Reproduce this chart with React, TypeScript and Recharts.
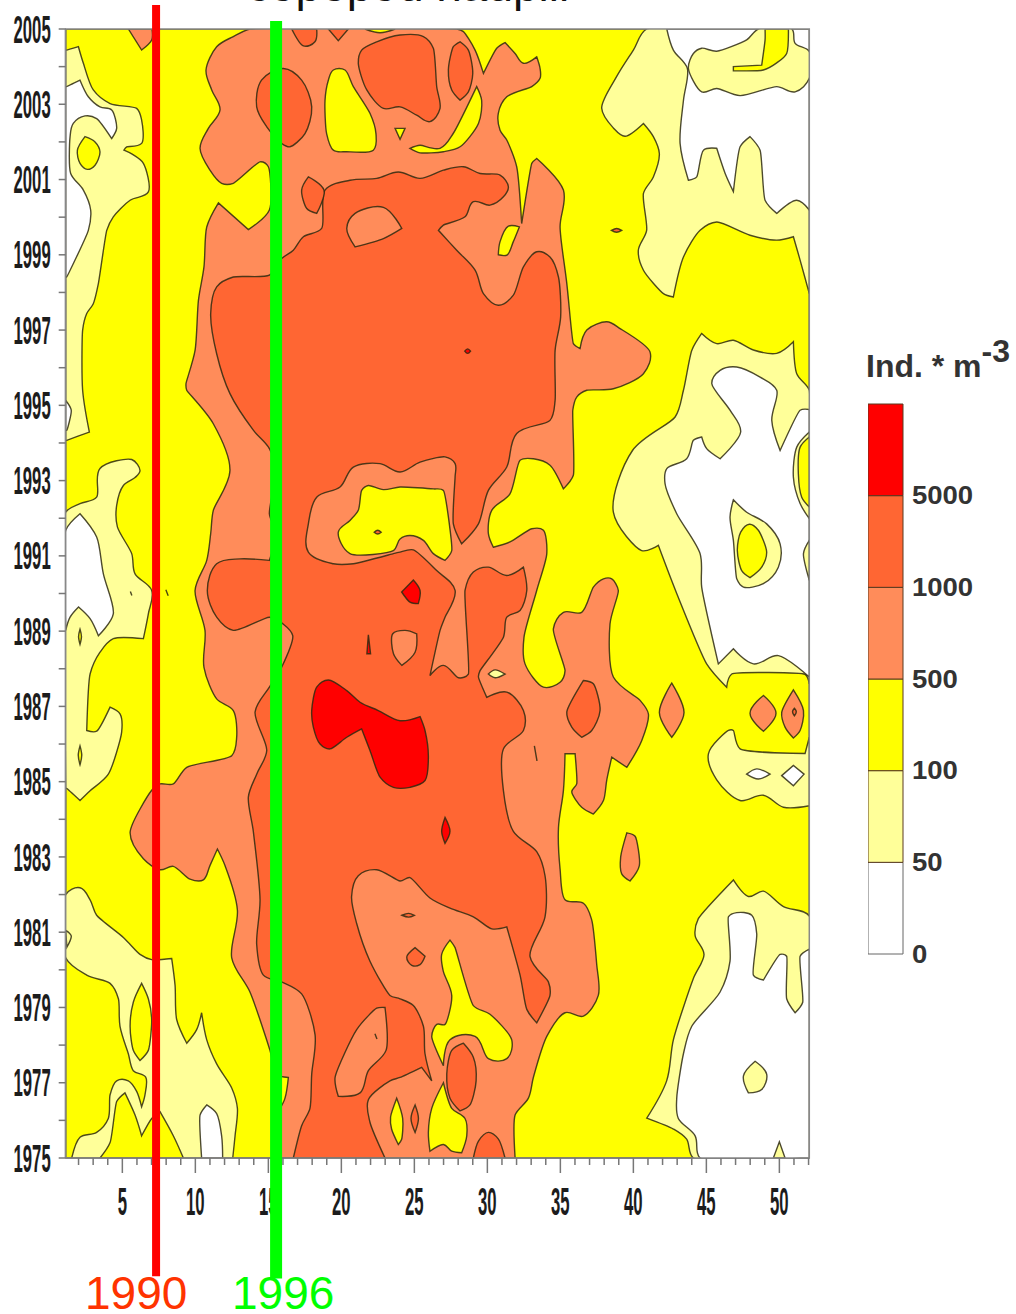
import React from "react";
import { Bar, BarChart, Scatter, ScatterChart, XAxis, YAxis } from "recharts";

type Pt = [number, number]; // [week, year]

const WEEK_MIN = 1.12;
const WEEK_MAX = 52.05;
const YEAR_MIN = 1975;
const YEAR_MAX = 2005;
// what the full page height comes to in years, for the overlay with the marker lines
const PAGE_YEAR_MIN = 1970.855;
const PAGE_YEAR_MAX = 2005.77;

const xMajor = [5, 10, 15, 20, 25, 30, 35, 40, 45, 50];
const xTicks = [
  2, 3, 4, 5, 6, 7, 8, 9, 10, 11, 12, 13, 14, 15, 16, 17, 18, 19, 20, 21, 22, 23, 24, 25, 26, 27,
  28, 29, 30, 31, 32, 33, 34, 35, 36, 37, 38, 39, 40, 41, 42, 43, 44, 45, 46, 47, 48, 49, 50, 51, 52,
];
const yTicks = [
  1975, 1976, 1977, 1978, 1979, 1980, 1981, 1982, 1983, 1984, 1985, 1986, 1987, 1988, 1989, 1990,
  1991, 1992, 1993, 1994, 1995, 1996, 1997, 1998, 1999, 2000, 2001, 2002, 2003, 2004, 2005,
];

const legendLabels = ["0", "50", "100", "500", "1000", "5000"];
const legendRow = [{ name: "levels", a: 1, b: 1, c: 1, d: 1, e: 1, f: 1 }];

// the two marker lines run past the plot on both sides
const line1990: Pt[] = [[7.31, 2005.64], [7.31, 1971.86]];
const line1996: Pt[] = [[15.53, 2005.21], [15.53, 1971.8]];

// 100-500 fills the whole plot first
const plotArea: Pt[] = [[WEEK_MIN, 1975], [WEEK_MAX, 1975], [WEEK_MAX, 2005], [WEEK_MIN, 2005]];

// 50-100 band
const paleTopLeft: Pt[] = [[1.19,2004.44],[1.99,2004.53],[2.33,2004.09],[3.01,2003.38],[4.16,2003.02],[5.98,2002.89],[6.32,2002.58],[6.32,2001.96],[5.3,2001.87],[5.11,2001.78],[5.64,2001.68],[6.44,2001.43],[6.78,2000.67],[5.53,2000.45],[4.38,2000.01],[3.93,1999.65],[3.36,1998.24],[3.01,1997.7],[2.56,1997.44],[2.28,1997],[2.28,1995.4],[2.74,1994.29],[1.19,1994.07],[1.12,1994.07],[1.12,2004.44]];
const paleMidLeft: Pt[] = [[1.12,1992.16],[2.1,1992.39],[3.24,1992.56],[3.47,1993.32],[5.64,1993.56],[6.21,1993.27],[5.87,1993.08],[5.07,1992.87],[4.61,1992.34],[4.66,1991.77],[5.64,1991.06],[5.87,1990.52],[7.01,1990.08],[6.78,1989.46],[6.44,1988.8],[4.38,1988.8],[3.47,1988.44],[2.79,1987.86],[2.56,1986.36],[3.24,1986.34],[4.16,1986.98],[4.84,1986.8],[4.95,1986.31],[4.04,1985.2],[2.79,1984.76],[2.1,1984.5],[1.19,1984.82],[1.12,1984.82]];
const paleBottomLeft: Pt[] = [[1.12,1982],[2.1,1982.18],[2.79,1981.86],[3.24,1981.45],[5.07,1980.86],[6.21,1980.41],[7.01,1980.27],[8.38,1980.3],[8.61,1979.59],[8.72,1978.68],[9.41,1978.05],[10.09,1978.41],[10.43,1978.86],[10.78,1978.14],[11.46,1977.5],[12.49,1976.86],[12.88,1976.32],[12.72,1975.59],[12.56,1975],[1.53,1975],[2.1,1975.55],[3.24,1975.68],[4.04,1976.05],[4.16,1976.68],[4.61,1977.05],[5.41,1977.05],[5.98,1976.77],[6.32,1976.36],[6.55,1976.68],[6.6,1977.15],[5.75,1977.32],[5.41,1977.77],[4.84,1978.5],[4.73,1979.23],[4.16,1979.64],[2.56,1979.86],[1.12,1980.32]];
const paleTopRight: Pt[] = [[40.91,2005],[40,2004.44],[38.86,2003.74],[37.83,2002.9],[38.63,2002.37],[39.43,2002.15],[40.69,2002.49],[41.37,2002.14],[41.78,2001.69],[41.37,2001.07],[40.69,2000.63],[40.91,1999.65],[40.34,1999.12],[40.69,1998.59],[42.06,1997.97],[42.74,1997.88],[43.43,1998.94],[44.57,1999.65],[45.71,1999.87],[47.99,1999.52],[49.82,1999.39],[50.96,1999.48],[51.42,1998.86],[52.05,1997.97],[52.05,2005]];
const paleMidRight: Pt[] = [[44.68,1996.91],[45.71,1996.64],[46.85,1996.73],[48.22,1996.47],[49.82,1996.38],[50.96,1996.69],[51.19,1995.84],[52.05,1995.4],[52.05,1987.6],[51.76,1987.85],[46.74,1987.86],[46.39,1987.51],[45.02,1988.13],[42.97,1990],[41.71,1991.28],[40.57,1991.14],[38.63,1992.16],[39.94,1993.8],[42.86,1994.69],[43.43,1995.4],[44,1996.46]];
const paleLowRight: Pt[] = [[45.14,1985.74],[46.51,1986.36],[46.85,1986.36],[47.31,1985.87],[51.76,1985.75],[52.05,1986.18],[52.05,1984.36],[50.28,1984.32],[48.9,1984.64],[47.31,1984.5],[45.71,1985.05]];
const paleBottomRight: Pt[] = [[40.92,1976.06],[42.28,1977.05],[42.74,1978.14],[44.11,1979.77],[44.84,1980.41],[44.23,1980.91],[44.45,1981.36],[46.85,1982.39],[47.88,1981.95],[48.91,1982.09],[50.28,1981.68],[52.05,1981.43],[52.05,1975],[44.11,1975],[43.65,1975.5],[42.74,1975.77]];
const paleNotch: Pt[] = [[1.12,1981.05],[1.5,1980.9],[1.2,1980.6]];

// below 50
const whiteTopLeft: Pt[] = [[1.19,2003.47],[2.1,2003.64],[2.67,2003.2],[3.47,2002.93],[4.27,2002.85],[4.61,2002.36],[4.27,2002.09],[3.24,2002.62],[2.44,2002.69],[1.64,2002.49],[1.42,2002.14],[1.46,2001.16],[2.33,2000.72],[2.83,2000.19],[2.67,1999.65],[1.19,1998.41],[1.12,1998.41],[1.12,2003.47]];
const whiteSliver: Pt[] = [[1.12,1995.13],[1.5,1994.87],[1.2,1994.34],[1.12,1994.34]];
const whiteMidLeft: Pt[] = [[1.12,1991.68],[2.1,1992.12],[3.24,1991.5],[3.7,1990.52],[4.38,1989.46],[3.36,1988.88],[2.79,1989.33],[2,1989.64],[1.42,1989.37],[1.12,1989.02]];
const whiteSlot: Pt[] = [[10.43,1975],[10.32,1976.14],[10.78,1976.41],[11.46,1976.18],[11.8,1975.59],[11.87,1975]];
const whiteTopRight: Pt[] = [[42.29,2005],[42.74,2004.44],[43.7,2003.95],[43.43,2003.1],[43.2,2001.96],[43.77,2000.98],[44.34,2001.07],[44.8,2001.78],[45.71,2001.83],[46.28,2001.17],[46.85,2000.68],[47.31,2001.87],[47.99,2002.14],[48.68,2001.78],[49.02,2000.45],[49.82,2000.1],[51.19,2000.45],[52.05,2000.19],[52.05,2005]];
const whiteMidRight: Pt[] = [[45.37,1995.58],[45.94,1995.93],[47.08,1996.02],[48.68,1995.75],[49.82,1995.4],[49.48,1994.6],[50.05,1993.8],[51.42,1994.87],[52.05,1994.89],[52.05,1987.78],[49.93,1988.35],[48.22,1988.13],[46.85,1988.53],[45.82,1988.13],[44.68,1990.17],[44.57,1991.06],[42.97,1992.12],[42.17,1992.92],[42.29,1993.32],[43.65,1993.58],[44.11,1994.07],[44.68,1994.16],[45.02,1993.85],[45.94,1993.58],[47.35,1994.29],[46.62,1994.87]];
const whiteBottomRight: Pt[] = [[44.57,1975],[44.23,1975.59],[43.08,1976.05],[42.97,1976.59],[43.43,1977.77],[44,1978.5],[45.94,1979.41],[46.62,1980.23],[46.51,1981.41],[47.08,1981.52],[48.11,1981.45],[48.45,1980.95],[48.22,1979.86],[48.91,1979.73],[50.05,1980.41],[50.5,1980.36],[50.5,1979.23],[51.08,1978.86],[51.6,1979.14],[51.42,1980.36],[52.05,1980.55],[52.05,1975]];
const whiteEye1: Pt[] = [[47.76,1985.2],[48.45,1985.34],[49.36,1985.2],[48.56,1985.07]];
const whiteEye2: Pt[] = [[50.16,1985.16],[50.96,1985.43],[51.69,1985.2],[50.96,1984.89]];

// 50-100 again, sitting on the white parts
const paleBandTop: Pt[] = [[43.77,2003.95],[44.11,2004.35],[44.68,2004.49],[45.71,2004.41],[47.76,2004.71],[48.56,2005],[50.85,2005],[51.08,2004.62],[52.05,2004.4],[52.05,2003.69],[51.08,2003.33],[49.82,2003.47],[47.31,2003.23],[45.71,2003.42],[44.68,2003.33]];
const paleEdgeOval: Pt[] = [[52.05,1994.29],[51.19,1993.89],[50.96,1993.09],[51.42,1992.39],[52.05,1991.99]];
const paleEdgeSmall: Pt[] = [[52.05,1991.41],[51.65,1991.06],[52.05,1990.35]];
const paleIsland: Pt[] = [[46.85,1992.49],[47.76,1992.16],[49.13,1991.85],[50.05,1991.32],[49.93,1990.7],[48.9,1990.26],[47.54,1990.17],[47.08,1990.39],[46.85,1991.41],[46.62,1992.03]];
const paleRound: Pt[] = [[47.54,1977.18],[48.34,1977.57],[49.13,1977.23],[48.79,1976.82],[47.88,1976.73]];
const paleBottomTip: Pt[] = [[49.59,1975],[50,1975.43],[50.39,1975]];

// yellow on top of the pale bands
const yellowLeftIsland: Pt[] = [[1.92,2001.78],[2.44,2002.14],[3.13,2002],[3.47,2001.73],[3.13,2001.38],[2.6,2001.27],[2.1,2001.43]];
const yellowDot1: Pt[] = [[2,1988.86],[2.1,1989.05],[2.2,1988.86],[2.1,1988.65]];
const yellowDot2: Pt[] = [[1.98,1985.7],[2.1,1985.95],[2.22,1985.7],[2.1,1985.45]];
const yellowLeaf: Pt[] = [[6.32,1979.64],[6.78,1979.23],[7.01,1978.68],[6.78,1977.86],[6.21,1977.59],[5.75,1977.86],[5.53,1978.5],[5.75,1979.14]];
const yellowBottomLeft: Pt[] = [[3.47,1975],[4.16,1975.41],[4.61,1976.5],[5.18,1976.73],[5.87,1976.14],[6.32,1975.59],[7.01,1976.05],[7.58,1976.23],[8.49,1975.59],[9.18,1975]];
const yellowTopRight: Pt[] = [[49.02,2005],[50.62,2005],[50.5,2004.35],[49.82,2004.1],[48.9,2003.91],[46.85,2003.89],[46.85,2004],[48.79,2004.04],[49.02,2004.71]];
const yellowEdge: Pt[] = [[52.05,1994.16],[51.42,1993.89],[51.3,1993.18],[51.53,1992.56],[52.05,1992.3]];
const yellowIslandRight: Pt[] = [[47.95,1991.84],[48.56,1991.68],[49.13,1991.1],[48.79,1990.7],[47.99,1990.42],[47.42,1990.61],[47.12,1991.14],[47.35,1991.63]];

// 500-1000
const orangeMain: Pt[] = [[13.74,2005],[12.6,2004.8],[11.46,2004.53],[10.73,2003.91],[11.12,2003.38],[11.69,2002.85],[10.89,2002.36],[10.32,2001.83],[11,2001.25],[11.8,2000.9],[12.6,2000.9],[14.43,2001.47],[15,2001.34],[15.07,2000.19],[13.63,1999.67],[11.58,2000.38],[10.78,1999.74],[10.59,1998.68],[10.21,1997.79],[9.98,1996.46],[9.36,1995.58],[9.41,1995.4],[11.23,1994.51],[12.37,1993.27],[11.23,1992.21],[11.05,1991.59],[10.78,1990.88],[9.98,1990.08],[10.66,1989.02],[10.59,1988.04],[11.46,1987.2],[12.6,1986.89],[12.83,1986.18],[12.49,1985.69],[9.41,1985.38],[8.49,1984.94],[7.58,1984.94],[7.01,1984.77],[5.53,1983.64],[6.44,1982.95],[7.58,1982.66],[8.49,1982.75],[9.63,1982.41],[10.55,1982.39],[11,1982.77],[11.51,1983.21],[12.03,1982.77],[12.88,1981.59],[12.49,1980.32],[13.74,1979.41],[15.11,1977.86],[15.53,1977.23],[16.37,1977.14],[16.14,1976.59],[15.57,1976.09],[15.46,1975],[31.9,1975],[31.9,1976.14],[32.81,1976.59],[33.15,1977.14],[34.07,1978.23],[35.32,1978.86],[36.58,1978.77],[37.6,1979.32],[37.49,1980.14],[37.15,1981.32],[36.58,1981.77],[35.32,1981.86],[34.98,1982.68],[34.87,1983.77],[35.21,1984.77],[35.32,1985.74],[36.01,1985.74],[36.12,1984.94],[35.78,1984.73],[36.46,1984.32],[37.26,1984.14],[37.95,1984.5],[38.18,1985.05],[38.52,1985.65],[39.55,1985.38],[40.57,1986.09],[41.03,1986.8],[40.46,1987.16],[38.63,1987.78],[38.4,1989.19],[38.97,1990.08],[38.52,1990.39],[37.95,1990.39],[37.26,1990.17],[36.46,1989.5],[35.21,1989.5],[34.52,1989.06],[35.32,1987.95],[34.98,1987.64],[33.84,1987.51],[32.58,1988.13],[32.51,1988.84],[33.38,1990.08],[34.07,1991.06],[33.84,1991.68],[33.04,1991.72],[31.55,1991.37],[30.41,1991.23],[30.07,1991.59],[30.3,1992.21],[31.55,1992.65],[32.24,1993.54],[33.15,1993.58],[34.29,1993.41],[35.21,1992.78],[35.89,1993.14],[35.85,1994.87],[36.12,1995.22],[36.81,1995.4],[38.63,1995.44],[40.69,1995.84],[41.14,1996.42],[39.09,1997.04],[38.18,1997.22],[36.81,1997],[36.35,1996.51],[35.89,1996.64],[35.44,1998.24],[34.98,1999.74],[35.21,2000.72],[33.38,2001.56],[33.04,2001.43],[32.35,1999.83],[32.01,2001.34],[31.33,2002.05],[30.87,2002.31],[30.75,2002.76],[31.33,2003.2],[33.04,2003.47],[33.61,2003.69],[33.61,2003.95],[33.38,2004.26],[32.47,2004.09],[31.9,2004.35],[31.21,2004.64],[30.64,2004.49],[29.73,2003.82],[29.16,2004.44],[28.36,2004.93],[27.9,2005]];
const orangeTopCorner: Pt[] = [[5.41,2005],[6.32,2004.44],[7.01,2004.71],[7.03,2005]];
const orangeDiamond1: Pt[] = [[47.99,1986.82],[48.91,1987.29],[49.77,1986.82],[48.91,1986.34]];
const orangeDiamond2: Pt[] = [[50.16,1986.84],[50.96,1987.44],[51.65,1986.89],[51.42,1986.36],[50.96,1986.16],[50.39,1986.45]];
const orangeDiamond3: Pt[] = [[41.78,1986.84],[42.63,1987.62],[43.47,1986.84],[42.63,1986.18]];
const orangeOval: Pt[] = [[39.13,1983],[39.55,1983.64],[40.12,1983.55],[40.41,1982.77],[39.77,1982.36],[39.2,1982.55]];

// yellow holes in the orange
const yellowHoleTop: Pt[] = [[19.45,2003.91],[20.25,2003.91],[20.82,2003.47],[21.96,2002.76],[22.37,2002.22],[22.19,2001.78],[20.37,2001.74],[19.45,2001.78],[18.99,2002.22],[18.88,2003.1],[19.11,2003.64]];
const yellowSpeck: Pt[] = [[23.68,2002.36],[24.36,2002.36],[24.02,2002.07]];
const yellowCrescent: Pt[] = [[24.7,2001.83],[25.39,2001.91],[26.76,2001.83],[27.67,2002.23],[29.27,2003.47],[29.61,2003.1],[29.39,2002.49],[28.13,2001.87],[26.99,2001.74],[25.39,2001.71]];
const yellowSeed: Pt[] = [[30.87,1999.35],[31.44,1999.76],[32.19,1999.74],[31.78,1999.35],[31.37,1999],[30.75,1999]];
const yellowTopSliver: Pt[] = [[21.62,2005],[22.65,2004.9],[23.68,2005]];
const yellowHoleMid: Pt[] = [[19.79,1991.63],[20.59,1991.94],[21.16,1992.21],[21.39,1992.74],[21.85,1992.87],[22.88,1992.76],[24.02,1992.83],[26.3,1992.78],[26.99,1992.74],[27.56,1991.14],[27.1,1990.88],[26.3,1991.06],[25.62,1991.41],[24.7,1991.54],[24.02,1991.45],[23.56,1991.14],[20.59,1991.06]];
const yellowHoleY: Pt[] = [[26.87,1980.41],[27.44,1980.79],[27.79,1980.59],[29.04,1979.05],[30.18,1978.82],[31.67,1978.14],[31.33,1977.64],[30.07,1977.64],[29.16,1978.23],[27.44,1978.14],[26.99,1977.45],[26.19,1978.23],[26.53,1978.55],[27.1,1978.55],[27.56,1979.32],[26.99,1979.95]];
const yellowHoleLow: Pt[] = [[26.99,1977],[27.56,1976.32],[28.47,1976.05],[28.59,1975.59],[28.24,1975.14],[27.56,1975.18],[26.99,1975.36],[26.07,1975.18],[25.96,1975.68],[26.19,1976.32]];
const yellowDrop: Pt[] = [[23.79,1976.59],[24.2,1976.05],[24.13,1975.5],[23.9,1975.36],[23.44,1975.77],[23.37,1976.09]];
const paleSliver: Pt[] = [[30.07,1987.86],[30.53,1987.97],[31.21,1987.86],[30.53,1987.76]];

// 1000-5000
const darkMain: Pt[] = [[16.71,1975],[17.28,1975.86],[17.85,1976.32],[17.97,1977.23],[18.2,1978.27],[17.28,1979.36],[15.91,1979.68],[14.66,1979.86],[14.2,1980.68],[14.43,1981.86],[13.97,1983.68],[13.63,1984.59],[14.2,1985.2],[14.89,1985.83],[14.09,1986.85],[15.07,1987.51],[15.91,1988.04],[16.67,1988.88],[15.98,1989.2],[15.07,1989.37],[12.6,1989.02],[11.46,1989.37],[10.82,1990.08],[11.46,1990.79],[13.06,1990.92],[15.07,1990.88],[15.52,1991.59],[15.07,1992.12],[15.52,1993.27],[15.07,1993.85],[13.97,1994.34],[12.37,1995.31],[11.46,1996.37],[11.05,1997.44],[11.46,1998.15],[12.6,1998.41],[15.07,1998.46],[15.91,1998.9],[16.71,1999.12],[17.4,1999.48],[18.65,1999.7],[18.88,2000.72],[20.59,2000.98],[22.42,2001.03],[23.9,2001.2],[25.39,2001.03],[26.99,2001.25],[28.36,2001.34],[29.5,2001.16],[30.87,2001.12],[31.44,2000.81],[31.1,2000.54],[30.18,2000.32],[29.04,2000.41],[28.47,2000.01],[26.99,1999.79],[26.65,1999.65],[27.9,1999.12],[29.16,1998.59],[29.73,1997.97],[30.75,1997.66],[31.78,1997.93],[32.47,1998.68],[33.38,1999.08],[34.29,1998.94],[34.87,1998.41],[35.02,1997.35],[34.64,1996.46],[34.64,1995.13],[34.29,1994.6],[32.01,1994.25],[31.33,1993.36],[30.07,1992.74],[29.39,1991.85],[28.24,1991.32],[27.67,1991.85],[27.79,1993.1],[27.79,1993.45],[27.1,1993.63],[25.39,1993.49],[24.02,1993.23],[22.65,1993.45],[20.82,1993.36],[19.91,1992.83],[18.31,1992.56],[17.74,1991.85],[17.74,1991.1],[19.45,1990.79],[20.82,1990.79],[23.56,1991.06],[24.02,1991.1],[24.93,1991.16],[26.53,1990.61],[27.79,1990.08],[27.1,1989.37],[26.76,1989.02],[26.07,1987.82],[26.99,1988.09],[28.02,1987.76],[28.7,1987.86],[28.47,1990.08],[29.04,1990.57],[30.07,1990.7],[31.33,1990.48],[32.47,1990.7],[32.7,1990.08],[32.24,1989.55],[31.33,1989.37],[31.1,1988.84],[29.5,1987.95],[29.39,1987.78],[29.96,1987.24],[31.33,1987.38],[32.47,1986.89],[32.47,1986.36],[31.1,1985.87],[31.1,1984.76],[31.78,1983.68],[33.38,1983.14],[33.95,1982.5],[33.95,1981.41],[32.92,1980.36],[34.18,1979.68],[34.29,1979.32],[33.38,1978.59],[32.7,1978.95],[32.24,1979.86],[31.33,1981.14],[30.3,1981.09],[29.04,1981.41],[27.44,1981.64],[26.07,1981.91],[24.7,1982.45],[24.02,1982.36],[22.42,1982.66],[21.16,1982.5],[20.7,1981.95],[21.05,1981.23],[21.96,1980.23],[23.33,1979.32],[24.02,1979.23],[24.93,1979.05],[25.62,1978.5],[25.73,1977.77],[26.19,1977.05],[25.5,1977.41],[24.02,1977.14],[23.33,1977.05],[21.85,1976.55],[21.96,1975.95],[22.99,1975]];
const darkBlobNeck: Pt[] = [[17.74,2001.07],[18.81,2000.72],[18.31,2000.1],[17.63,2000.23],[17.28,2000.72]];
const darkRoundTop: Pt[] = [[14.2,2002.93],[14.53,2003.64],[16.03,2003.95],[17.28,2003.64],[17.97,2002.93],[17.51,2002.22],[16.48,2001.87],[15.91,2001.96],[14.89,2002.4]];
const darkTopA: Pt[] = [[16.6,2005],[17.4,2004.55],[18.19,2004.66],[18.31,2005]];
const darkTopB: Pt[] = [[19.11,2005],[19.79,2004.69],[20.48,2005]];
const darkTopBig: Pt[] = [[21.39,2004.44],[22.42,2004.66],[24.02,2004.84],[25.62,2004.8],[26.3,2004.49],[26.53,2003.47],[26.76,2002.89],[26.07,2002.54],[25.16,2002.71],[24.02,2002.93],[22.88,2002.89],[21.74,2003.38],[21.16,2004.09]];
const darkTopOval: Pt[] = [[27.33,2003.91],[27.67,2004.53],[28.13,2004.66],[28.7,2004.44],[29,2003.82],[28.7,2003.33],[28.13,2003.11],[27.56,2003.38]];
const darkPatch1: Pt[] = [[24.48,1980.34],[25.05,1980.59],[25.73,1980.36],[25.39,1980.14],[24.82,1980.12]];
const darkOvalLow: Pt[] = [[27.22,1977.23],[27.56,1977.86],[28.36,1978.05],[29.04,1977.68],[29.23,1977.05],[28.81,1976.41],[28.13,1976.25],[27.44,1976.59]];
const darkDiamondLow: Pt[] = [[25.05,1976.41],[24.77,1976.05],[25.05,1975.68],[25.28,1976.05]];
const darkBottom: Pt[] = [[29.04,1975],[29.39,1975.45],[30.07,1975.68],[30.76,1975.5],[31.21,1975]];
const darkOvalRight: Pt[] = [[35.44,1986.85],[36.58,1987.69],[37.26,1987.6],[37.72,1986.89],[37.15,1986.36],[36.46,1986.18],[35.78,1986.45]];
const darkDotRight: Pt[] = [[50.9,1986.86],[51.03,1986.95],[51.16,1986.86],[51.03,1986.75]];

// orange holes inside the 1000-5000 field
const orangeHoleTop: Pt[] = [[20.37,1999.7],[20.94,2000.1],[22.88,2000.26],[24.14,1999.7],[22.88,1999.43],[20.94,1999.21]];
const orangeHoleMid: Pt[] = [[23.52,1988.93],[24.36,1989.02],[25.16,1988.93],[25.05,1988.44],[24.14,1988.09],[23.57,1988.4]];
const orangeHoleLow: Pt[] = [[22.99,1979],[23.06,1977.86],[21.85,1977.32],[21.28,1976.73],[19.79,1976.64],[19.57,1977.14],[21.05,1978.41],[22.42,1978.98]];

// tiny closed contours, almost only outline
const specks: Pt[][] = [
  [[22.25,1991.63],[22.49,1991.68],[22.73,1991.63],[22.49,1991.58]],
  [[38.5,1999.65],[38.86,1999.7],[39.2,1999.65],[38.86,1999.6]],
  [[24.15,1981.45],[24.6,1981.5],[25,1981.45],[24.6,1981.4]],
  [[33.22,1985.95],[33.31,1985.75],[33.4,1985.55]],
  [[22.3,1978.3],[22.37,1978.23],[22.44,1978.16]],
  [[7.98,1990.1],[8.06,1990.02],[8.14,1989.94]],
  [[5.55,1990.05],[5.6,1990],[5.65,1989.95]],
];

// above 5000
const redBig: Pt[] = [[17.97,1986.89],[18.31,1987.51],[19.11,1987.7],[20.37,1987.42],[21.28,1987.11],[22.53,1986.89],[24.02,1986.62],[25.39,1986.73],[25.73,1986.36],[25.96,1985.65],[25.73,1985.03],[24.7,1984.85],[23.56,1984.85],[22.65,1985.12],[21.96,1985.83],[21.39,1986.4],[20.37,1986.18],[19.22,1985.87],[18.54,1986],[18.08,1986.45]];
const redDiamond: Pt[] = [[24.13,1990.04],[24.93,1990.36],[25.39,1990.08],[25.27,1989.73],[24.7,1989.77]];
const redSmallMid: Pt[] = [[21.85,1988.9],[22,1988.4],[21.75,1988.4]];
const redSmallLow: Pt[] = [[27.1,1984.05],[27.44,1983.68],[27.1,1983.36],[26.87,1983.68]];
const redDot: Pt[] = [[28.45,1996.44],[28.65,1996.5],[28.85,1996.44],[28.65,1996.38]];

const YELLOW = "#ffff00";
const PALE = "#ffff99";
const WHITE = "#ffffff";
const ORANGE = "#ff8c5a";
const DARK = "#ff6633";
const RED = "#ff0000";

// painter's order, low levels first
const layers: { fill: string; shapes: Pt[][] }[] = [
  { fill: YELLOW, shapes: [plotArea] },
  { fill: PALE, shapes: [paleTopLeft, paleMidLeft, paleBottomLeft, paleTopRight, paleMidRight, paleLowRight, paleBottomRight, paleNotch] },
  { fill: WHITE, shapes: [whiteTopLeft, whiteSliver, whiteMidLeft, whiteSlot, whiteTopRight, whiteMidRight, whiteBottomRight, whiteEye1, whiteEye2] },
  { fill: PALE, shapes: [paleBandTop, paleEdgeOval, paleEdgeSmall, paleIsland, paleRound, paleBottomTip] },
  { fill: YELLOW, shapes: [yellowLeftIsland, yellowDot1, yellowDot2, yellowLeaf, yellowBottomLeft, yellowTopRight, yellowEdge, yellowIslandRight] },
  { fill: ORANGE, shapes: [orangeMain, orangeTopCorner, orangeDiamond1, orangeDiamond2, orangeDiamond3, orangeOval] },
  { fill: YELLOW, shapes: [yellowHoleTop, yellowSpeck, yellowCrescent, yellowSeed, yellowTopSliver, yellowHoleY, yellowHoleLow, yellowDrop] },
  { fill: PALE, shapes: [paleSliver] },
  { fill: DARK, shapes: [darkMain, darkBlobNeck, darkRoundTop, darkTopA, darkTopB, darkTopBig, darkTopOval, darkPatch1, darkOvalLow, darkDiamondLow, darkBottom, darkOvalRight, darkDotRight] },
  { fill: ORANGE, shapes: [orangeHoleTop, orangeHoleMid, orangeHoleLow] },
  { fill: YELLOW, shapes: [yellowHoleMid] },
  { fill: DARK, shapes: specks },
  { fill: RED, shapes: [redBig, redDiamond, redSmallMid, redSmallLow, redDot] },
];

const toRows = (pts: Pt[]) => pts.map(([week, year]) => ({ week, year }));

// closed curve for the contours: rounded where the outline bends gently, sharp at hard corners
const contourCurve = (context: any) => {
  let pts: number[][] = [];
  return {
    areaStart() {},
    areaEnd() {},
    lineStart() {
      pts = [];
    },
    point(x: number, y: number) {
      pts.push([x, y]);
    },
    lineEnd() {
      const n = pts.length;
      if (!n) return;
      const handle = pts.map((p, i) => {
        const a = pts[(i + n - 1) % n];
        const b = pts[(i + 1) % n];
        const ax = p[0] - a[0], ay = p[1] - a[1], bx = b[0] - p[0], by = b[1] - p[1];
        const la = Math.hypot(ax, ay) || 1, lb = Math.hypot(bx, by) || 1;
        const cos = (ax * bx + ay * by) / (la * lb);
        if (cos < 0.2) return [0, 0];
        const tx = ax / la + bx / lb, ty = ay / la + by / lb;
        const lt = Math.hypot(tx, ty) || 1;
        const len = Math.min(la, lb) * 0.33;
        return [(tx / lt) * len, (ty / lt) * len];
      });
      context.moveTo(pts[0][0], pts[0][1]);
      for (let i = 0; i < n; i++) {
        const j = (i + 1) % n;
        context.bezierCurveTo(
          pts[i][0] + handle[i][0], pts[i][1] + handle[i][1],
          pts[j][0] - handle[j][0], pts[j][1] - handle[j][1],
          pts[j][0], pts[j][1],
        );
      }
      context.closePath();
    },
  };
};

const NoMark = () => null;

const Label = ({ x, y, text, anchor }: { x: number; y: number; text: string; anchor: "middle" | "end" }) => (
  <text
    transform={`translate(${x},${y}) scale(0.44,1)`}
    textAnchor={anchor}
    dominantBaseline="central"
    fontFamily="Liberation Sans"
    fontWeight="bold"
    fontSize={38}
    fill="#1c1c1c"
  >
    {text}
  </text>
);

const XTick = ({ x, y, payload }: any) => {
  const major = xMajor.includes(payload.value);
  return (
    <g>
      <line x1={x} x2={x} y1={y} y2={y + (major ? 15 : 7)} stroke="#777" strokeWidth={1.5} />
      {major && <Label x={x} y={y + 43} text={String(payload.value)} anchor="middle" />}
    </g>
  );
};

const YTick = ({ x, y, payload }: any) => (
  <g>
    <line x1={x - 7} x2={x} y1={y} y2={y} stroke="#777" strokeWidth={1.5} />
    {payload.value % 2 === 1 && <Label x={x - 15} y={y} text={String(payload.value)} anchor="end" />}
  </g>
);

const LegendTick = ({ x, y, payload }: any) => (
  <text
    transform={`translate(${x + 9},${y}) scale(1.1,1)`}
    dominantBaseline="central"
    fontFamily="Liberation Sans"
    fontWeight="bold"
    fontSize={25}
    fill="#333"
  >
    {legendLabels[payload.value]}
  </text>
);

const outline = { stroke: "#2e2a10", strokeWidth: 1.4, strokeOpacity: 0.85, clipPath: "url(#plotClip)" };
const legendStroke = "#5a3a20";

export default function App() {
  return (
    <div style={{ position: "absolute", left: 0, top: 0, width: 1016, height: 1314, background: "#fff", overflow: "hidden" }}>
      <svg width={0} height={0} style={{ position: "absolute" }}>
        <defs>
          <clipPath id="plotClip" clipPathUnits="userSpaceOnUse">
            <rect x={65.7} y={29} width={743.6} height={1129} />
          </clipPath>
        </defs>
      </svg>
      <ScatterChart width={1016} height={1314} margin={{ top: 29, right: 206.7, bottom: 0, left: 0 }}>
        <XAxis
          type="number"
          dataKey="week"
          domain={[WEEK_MIN, WEEK_MAX]}
          ticks={xTicks}
          interval={0}
          height={156}
          tickSize={0}
          tickMargin={0}
          tick={<XTick />}
          axisLine={{ stroke: "#777", strokeWidth: 2 }}
          tickLine={false}
        />
        <YAxis
          type="number"
          dataKey="year"
          domain={[YEAR_MIN, YEAR_MAX]}
          ticks={yTicks}
          interval={0}
          width={65.7}
          tickSize={0}
          tickMargin={0}
          tick={<YTick />}
          axisLine={{ stroke: "#888", strokeWidth: 2 }}
          tickLine={false}
        />
        {layers.flatMap((layer, i) =>
          layer.shapes.map((shape, j) => (
            <Scatter
              key={`${i}-${j}`}
              data={toRows(shape)}
              shape={NoMark}
              isAnimationActive={false}
              line={{ ...outline, fill: layer.fill }}
              lineType="joint"
              lineJointType={contourCurve as any}
            />
          )),
        )}
        <Scatter
          data={toRows(plotArea)}
          shape={NoMark}
          isAnimationActive={false}
          line={{ stroke: "#888", strokeWidth: 1.5, fill: "none" }}
          lineType="joint"
          lineJointType="linearClosed"
        />
      </ScatterChart>

      {/* second chart over the first: same week scale, y scale covers the whole page */}
      <div style={{ position: "absolute", left: 0, top: 0, pointerEvents: "none" }}>
        <ScatterChart width={1016} height={1314} margin={{ top: 0, right: 206.7, bottom: 0, left: 65.7 }}>
          <XAxis type="number" dataKey="week" domain={[WEEK_MIN, WEEK_MAX]} hide />
          <YAxis type="number" dataKey="year" domain={[PAGE_YEAR_MIN, PAGE_YEAR_MAX]} hide />
          <Scatter
            data={toRows(line1990)}
            shape={NoMark}
            isAnimationActive={false}
            line={{ stroke: "#ff0000", strokeWidth: 8 }}
            lineType="joint"
          />
          <Scatter
            data={toRows(line1996)}
            shape={NoMark}
            isAnimationActive={false}
            line={{ stroke: "#00ff00", strokeWidth: 12 }}
            lineType="joint"
          />
        </ScatterChart>
      </div>

      <div style={{ position: "absolute", left: 868, top: 394, width: 148, height: 590 }}>
        <BarChart
          width={148}
          height={590}
          data={legendRow}
          margin={{ top: 10, right: 0, bottom: 30, left: 0 }}
          barCategoryGap={0}
        >
          <XAxis dataKey="name" hide />
          <YAxis
            orientation="right"
            type="number"
            domain={[0, 6]}
            ticks={[0, 1, 2, 3, 4, 5]}
            interval={0}
            width={113}
            tickSize={0}
            tickMargin={0}
            tick={<LegendTick />}
            axisLine={false}
            tickLine={false}
          />
          <Bar dataKey="a" stackId="l" fill={WHITE} stroke="#666" isAnimationActive={false} />
          <Bar dataKey="b" stackId="l" fill={PALE} stroke={legendStroke} isAnimationActive={false} />
          <Bar dataKey="c" stackId="l" fill={YELLOW} stroke={legendStroke} isAnimationActive={false} />
          <Bar dataKey="d" stackId="l" fill={ORANGE} stroke={legendStroke} isAnimationActive={false} />
          <Bar dataKey="e" stackId="l" fill={DARK} stroke={legendStroke} isAnimationActive={false} />
          <Bar dataKey="f" stackId="l" fill={RED} stroke={legendStroke} isAnimationActive={false} />
        </BarChart>
      </div>

      <svg width={1016} height={1314} style={{ position: "absolute", left: 0, top: 0, pointerEvents: "none" }}>
        <text x={247} y={1} fontFamily="Liberation Sans" fontSize={46} fill="#111">copepod nauplii</text>
        <text x={85} y={1309} fontFamily="Liberation Sans" fontSize={46} fill="#ff3300">1990</text>
        <text x={232} y={1309} fontFamily="Liberation Sans" fontSize={46} fill="#00ff00">1996</text>
        <text x={866} y={377} fontFamily="Liberation Sans" fontSize={32} fontWeight="bold" fill="#333">
          Ind. * m
          <tspan dy={-15} fontSize={32}>-3</tspan>
        </text>
      </svg>
    </div>
  );
}
